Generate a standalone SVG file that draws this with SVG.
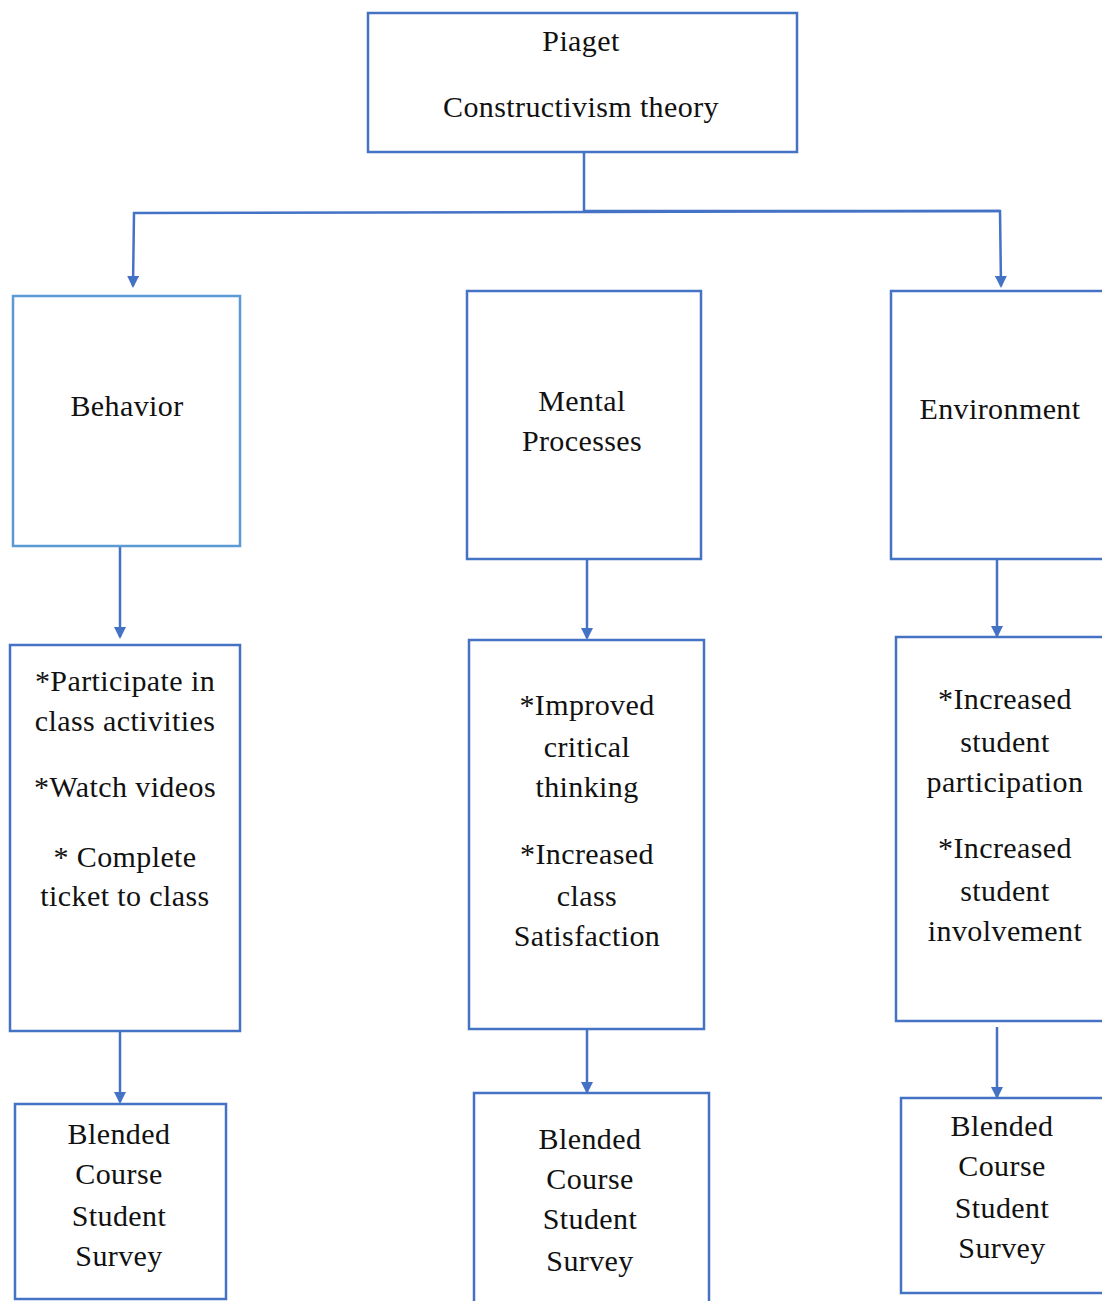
<svg xmlns="http://www.w3.org/2000/svg" width="1102" height="1301" viewBox="0 0 1102 1301">
<style>
.box{fill:#fff;stroke:#4472C4;stroke-width:2.5}
.boxl{fill:#fff;stroke:#5B9BD5;stroke-width:2.5}
.t{font-family:"Liberation Serif","Times New Roman",serif;font-size:30px;letter-spacing:0.4px;fill:#111;text-anchor:middle}
.c{fill:none;stroke:#4472C4;stroke-width:2.5}
</style>
<defs>
<marker id="arr" viewBox="0 0 12 12" refX="10" refY="6" markerWidth="12" markerHeight="12" markerUnits="userSpaceOnUse" orient="auto">
<path d="M0,0 L12,6 L0,12 Z" fill="#4472C4"/>
</marker>
</defs>
<g id="connectors">
<polyline class="c" points="584,152 584,211"/>
<polyline class="c" points="1000,211 134,213 133,286" marker-end="url(#arr)"/>
<polyline class="c" points="584,211 1000,211 1001,286" marker-end="url(#arr)"/>
<line class="c" x1="120" y1="547" x2="120" y2="637" marker-end="url(#arr)"/>
<line class="c" x1="120" y1="1031" x2="120" y2="1102" marker-end="url(#arr)"/>
<line class="c" x1="587" y1="560" x2="587" y2="638" marker-end="url(#arr)"/>
<line class="c" x1="587" y1="1030" x2="587" y2="1092" marker-end="url(#arr)"/>
<line class="c" x1="997" y1="560" x2="997" y2="636" marker-end="url(#arr)"/>
<line class="c" x1="997" y1="1027" x2="997" y2="1097" marker-end="url(#arr)"/>
</g>
<g id="piaget">
<rect class="box" x="368" y="13" width="429" height="139"/>
<text class="t" x="581" y="51">Piaget</text>
<text class="t" x="581" y="117">Constructivism theory</text>
</g>
<g id="behavior">
<rect class="boxl" x="13" y="296" width="227" height="250"/>
<text class="t" x="127" y="416">Behavior</text>
</g>
<g id="mental">
<rect class="box" x="467" y="291" width="234" height="268"/>
<text class="t" x="582" y="411">Mental</text>
<text class="t" x="582" y="451">Processes</text>
</g>
<g id="environment">
<rect class="box" x="891" y="291" width="220" height="268"/>
<text class="t" x="1000" y="419">Environment</text>
</g>
<g id="behavior-outcomes">
<rect class="box" x="10" y="645" width="230" height="386"/>
<text class="t" x="125" y="691">*Participate in</text>
<text class="t" x="125" y="731">class activities</text>
<text class="t" x="125" y="797">*Watch videos</text>
<text class="t" x="125" y="867">* Complete</text>
<text class="t" x="125" y="906">ticket to class</text>
</g>
<g id="mental-outcomes">
<rect class="box" x="469" y="640" width="235" height="389"/>
<text class="t" x="587" y="715">*Improved</text>
<text class="t" x="587" y="757">critical</text>
<text class="t" x="587" y="797">thinking</text>
<text class="t" x="587" y="864">*Increased</text>
<text class="t" x="587" y="906">class</text>
<text class="t" x="587" y="946">Satisfaction</text>
</g>
<g id="environment-outcomes">
<rect class="box" x="896" y="637" width="215" height="384"/>
<text class="t" x="1005" y="709">*Increased</text>
<text class="t" x="1005" y="752">student</text>
<text class="t" x="1005" y="792">participation</text>
<text class="t" x="1005" y="858">*Increased</text>
<text class="t" x="1005" y="901">student</text>
<text class="t" x="1005" y="941">involvement</text>
</g>
<g id="survey-left">
<rect class="box" x="15" y="1104" width="211" height="195"/>
<text class="t" x="119" y="1144">Blended</text>
<text class="t" x="119" y="1184">Course</text>
<text class="t" x="119" y="1226">Student</text>
<text class="t" x="119" y="1266">Survey</text>
</g>
<g id="survey-middle">
<rect class="box" x="474" y="1093" width="235" height="220"/>
<text class="t" x="590" y="1149">Blended</text>
<text class="t" x="590" y="1189">Course</text>
<text class="t" x="590" y="1229">Student</text>
<text class="t" x="590" y="1271">Survey</text>
</g>
<g id="survey-right">
<rect class="box" x="901" y="1098" width="210" height="195"/>
<text class="t" x="1002" y="1136">Blended</text>
<text class="t" x="1002" y="1176">Course</text>
<text class="t" x="1002" y="1218">Student</text>
<text class="t" x="1002" y="1258">Survey</text>
</g>
</svg>
